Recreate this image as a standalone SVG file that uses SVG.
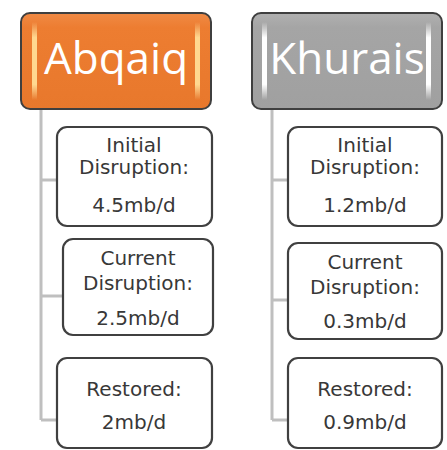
<svg xmlns="http://www.w3.org/2000/svg" width="447" height="450" viewBox="0 0 447 450">
  <style>
    .hdr { stroke: #3f3f3f; stroke-width: 2; }
    .hdr-text { font-family: "Open Sans", "Liberation Sans", sans-serif; font-size: 44px; fill: #ffffff; text-anchor: middle; }
    .item { fill: #ffffff; stroke: #404040; stroke-width: 2.2; }
    .item-text { font-family: "DejaVu Sans", "Liberation Sans", sans-serif; font-size: 20px; fill: #383838; text-anchor: middle; }
    .link { fill: none; stroke: #bfbfbf; stroke-width: 3; }
  </style>
  <defs>
    <linearGradient id="orangeFill" x1="0" y1="0" x2="0" y2="1">
      <stop offset="0" stop-color="#f08a45"/>
      <stop offset="0.15" stop-color="#ed7d31"/>
      <stop offset="1" stop-color="#e8782c"/>
    </linearGradient>
    <linearGradient id="grayFill" x1="0" y1="0" x2="0" y2="1">
      <stop offset="0" stop-color="#b0b0b0"/>
      <stop offset="0.15" stop-color="#a5a5a5"/>
      <stop offset="1" stop-color="#a0a0a0"/>
    </linearGradient>
    <linearGradient id="glowOrange" x1="0" y1="0" x2="0" y2="1">
      <stop offset="0" stop-color="#ffe0a0" stop-opacity="0"/>
      <stop offset="0.2" stop-color="#ffd890" stop-opacity="1"/>
      <stop offset="0.8" stop-color="#ffd890" stop-opacity="1"/>
      <stop offset="1" stop-color="#ffe0a0" stop-opacity="0"/>
    </linearGradient>
    <linearGradient id="glowGray" x1="0" y1="0" x2="0" y2="1">
      <stop offset="0" stop-color="#ffffff" stop-opacity="0"/>
      <stop offset="0.2" stop-color="#ffffff" stop-opacity="1"/>
      <stop offset="0.8" stop-color="#ffffff" stop-opacity="1"/>
      <stop offset="1" stop-color="#ffffff" stop-opacity="0"/>
    </linearGradient>
  </defs>

  <!-- tree connectors -->
  <g id="connectors">
    <path class="link" d="M41,109 V420 M41,180 H57 M41,296 H63 M41,420 H57"/>
    <path class="link" d="M272,109 V420 M272,180 H288 M272,300 H288 M272,420 H288"/>
  </g>

  <!-- Abqaiq column -->
  <g id="abqaiq">
    <rect class="hdr" x="21" y="13" width="190" height="96" rx="9" fill="url(#orangeFill)"/>
    <rect x="32" y="22" width="5" height="78" fill="url(#glowOrange)"/>
    <rect x="195" y="22" width="5" height="78" fill="url(#glowOrange)"/>
    <text class="hdr-text" x="116" y="74">Abqaiq</text>
  </g>
  <g id="abqaiq-initial">
    <rect class="item" x="57" y="127" width="155" height="99" rx="10"/>
    <text class="item-text" x="134" y="152">Initial</text>
    <text class="item-text" x="134" y="174">Disruption:</text>
    <text class="item-text" x="134" y="212">4.5mb/d</text>
  </g>
  <g id="abqaiq-current">
    <rect class="item" x="63" y="239" width="150" height="96" rx="10"/>
    <text class="item-text" x="138" y="265">Current</text>
    <text class="item-text" x="138" y="290">Disruption:</text>
    <text class="item-text" x="138" y="325">2.5mb/d</text>
  </g>
  <g id="abqaiq-restored">
    <rect class="item" x="57" y="358" width="155" height="90" rx="10"/>
    <text class="item-text" x="134" y="396">Restored:</text>
    <text class="item-text" x="134" y="429">2mb/d</text>
  </g>

  <!-- Khurais column -->
  <g id="khurais">
    <rect class="hdr" x="252" y="13" width="190" height="96" rx="9" fill="url(#grayFill)"/>
    <rect x="262" y="22" width="5" height="78" fill="url(#glowGray)"/>
    <rect x="426" y="22" width="5" height="78" fill="url(#glowGray)"/>
    <text class="hdr-text" x="347" y="74">Khurais</text>
  </g>
  <g id="khurais-initial">
    <rect class="item" x="288" y="127" width="154" height="99" rx="10"/>
    <text class="item-text" x="365" y="152">Initial</text>
    <text class="item-text" x="365" y="174">Disruption:</text>
    <text class="item-text" x="365" y="212">1.2mb/d</text>
  </g>
  <g id="khurais-current">
    <rect class="item" x="288" y="243" width="154" height="96" rx="10"/>
    <text class="item-text" x="365" y="269">Current</text>
    <text class="item-text" x="365" y="294">Disruption:</text>
    <text class="item-text" x="365" y="328">0.3mb/d</text>
  </g>
  <g id="khurais-restored">
    <rect class="item" x="288" y="358" width="154" height="90" rx="10"/>
    <text class="item-text" x="365" y="396">Restored:</text>
    <text class="item-text" x="365" y="429">0.9mb/d</text>
  </g>
</svg>
